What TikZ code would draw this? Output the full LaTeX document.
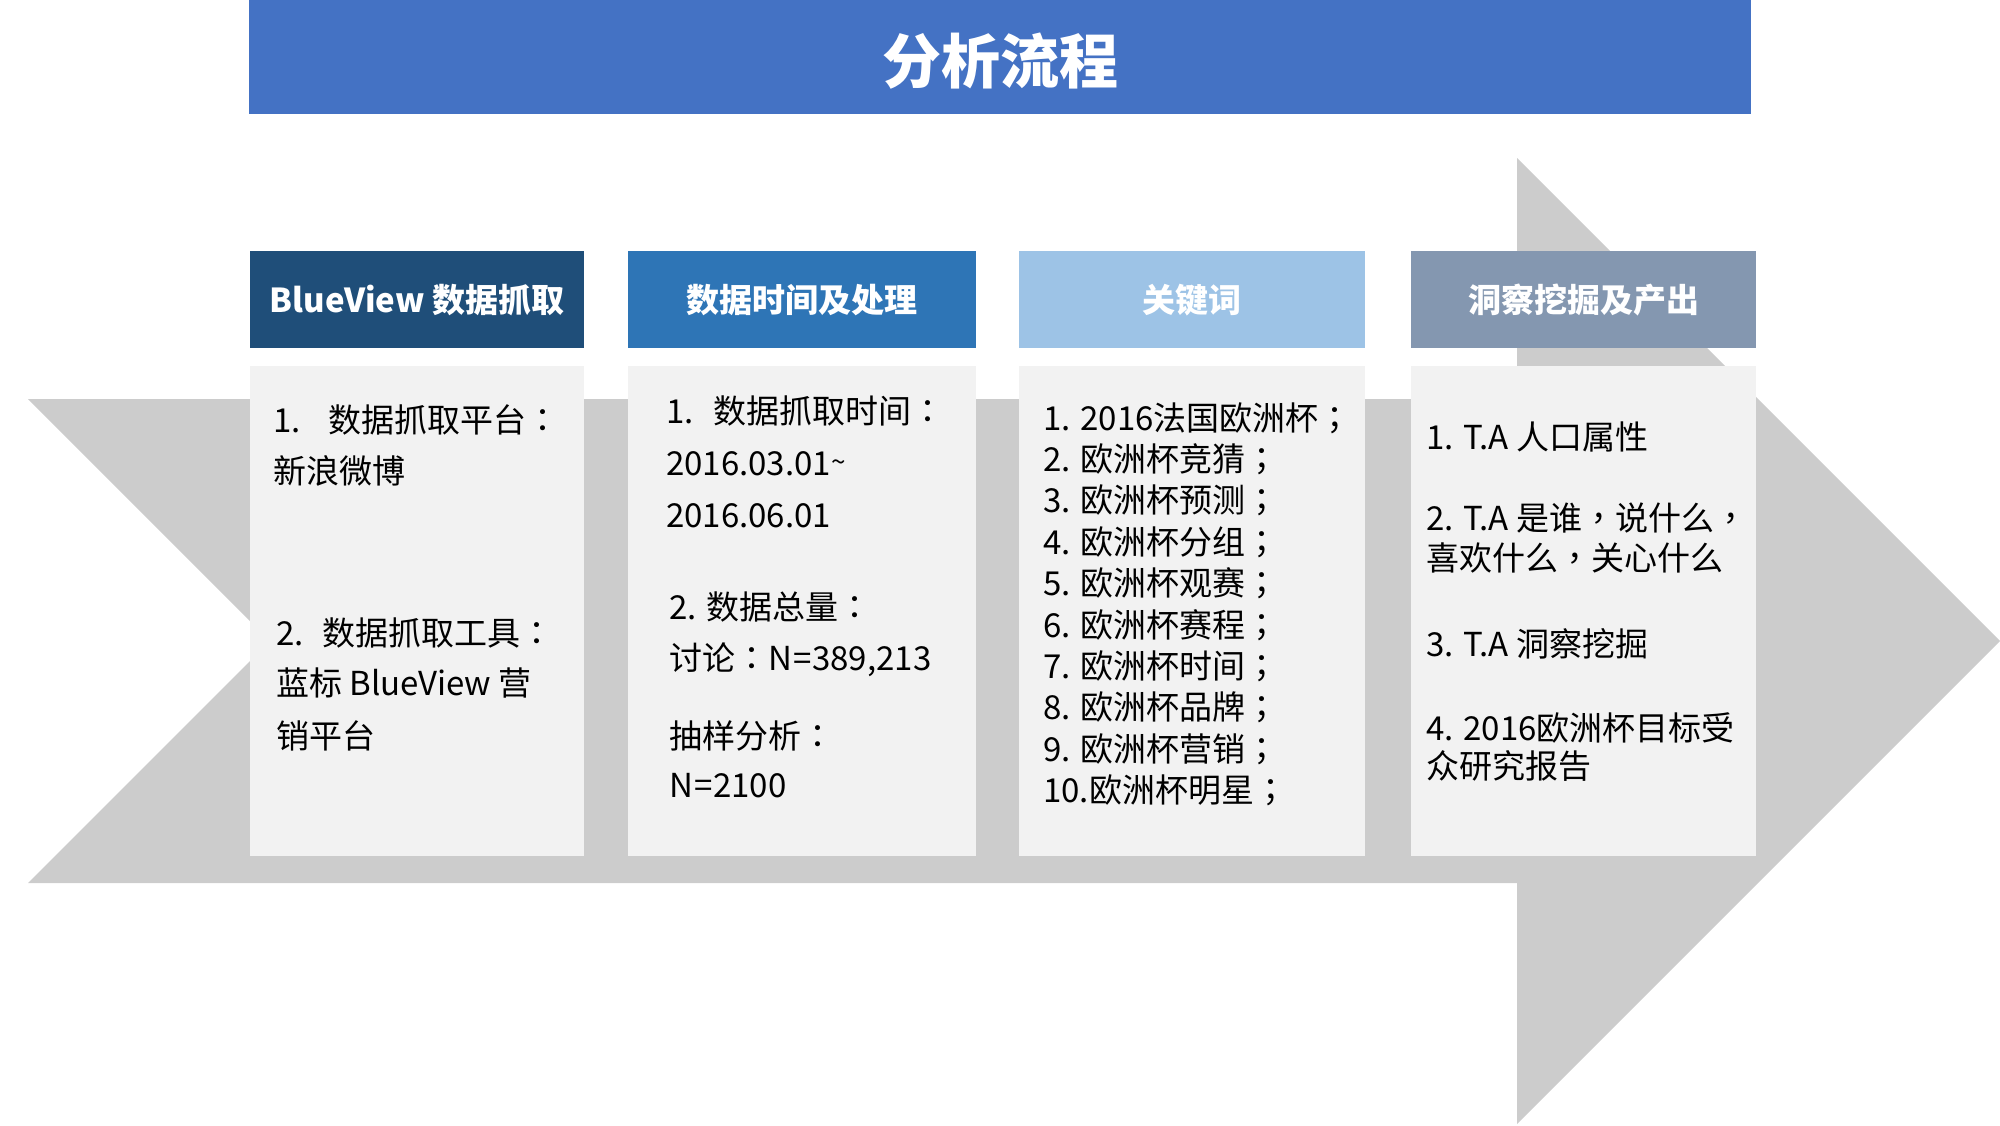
\documentclass[tikz,border=0pt]{standalone}
\usepackage{fontspec}
\setmainfont{Noto Sans CJK SC}
\newfontfamily\tcpunct{Noto Sans CJK TC}
\newcommand\pcolon{{\tcpunct ：}}
\newcommand\psemi{{\tcpunct ；}}
\newcommand\pcomma{{\tcpunct ，}}
\definecolor{titlebg}{HTML}{4472C4}
\definecolor{hdrA}{HTML}{1F4E79}
\definecolor{hdrB}{HTML}{2E75B6}
\definecolor{hdrC}{HTML}{9DC3E6}
\definecolor{hdrD}{HTML}{8497B0}
\definecolor{bodybg}{HTML}{F2F2F2}
\definecolor{arrowgray}{HTML}{CCCCCC}
\tikzset{
  panel/.style={anchor=north west, draw=none, inner sep=0pt, minimum height=#1},
  hdrbox/.style={panel=97pt, fill=#1, text=white, font=\fontsize{33}{40}\selectfont\bfseries},
  bodybox/.style={panel=490pt, fill=bodybg},
  txt/.style={anchor=base west, inner sep=0pt, text=black, font=\fontsize{33}{40}\selectfont},
}
\begin{document}
\begin{tikzpicture}[x=1pt,y=-1pt]
\useasboundingbox (0,0) rectangle (2000,1125);
% big arrow
\fill[arrowgray] (28,399) -- (1517,399) -- (1517,158) -- (2000,641) -- (1517,1124)
  -- (1517,883) -- (28,883) -- (270,641) -- cycle;
% title bar
\node[panel=114pt, fill=titlebg, minimum width=1502pt, text=white,
  font=\fontsize{59}{64}\selectfont\bfseries] (title) at (249,0)
  {\raisebox{-26pt}[0pt][0pt]{分析流程}};
% headers
\node[hdrbox=hdrA, minimum width=334pt] (h1) at (250,251) {BlueView 数据抓取};
\node[hdrbox=hdrB, minimum width=348pt] (h2) at (628,251) {数据时间及处理};
\node[hdrbox=hdrC, minimum width=346pt] (h3) at (1019,251) {关键词};
\node[hdrbox=hdrD, minimum width=345pt] (h4) at (1411,251) {洞察挖掘及产出};
% bodies
\node[bodybox, minimum width=334pt] (b1) at (250,366) {};
\node[bodybox, minimum width=348pt] (b2) at (628,366) {};
\node[bodybox, minimum width=346pt] (b3) at (1019,366) {};
\node[bodybox, minimum width=345pt] (b4) at (1411,366) {};
% column 1
\node[txt] (a1) at (273,432) {1.\hspace{28pt}数据抓取平台\pcolon};
\node[txt] (a2) at (273,483) {新浪微博};
\node[txt] (a3) at (276,645) {2.\hspace{19pt}数据抓取工具\pcolon};
\node[txt] (a4) at (276,695) {蓝标 BlueView 营};
\node[txt] (a5) at (276,748) {销平台};
% column 2
\node[txt] (m1) at (666,423) {1.\hspace{20pt}数据抓取时间\pcolon};
\node[txt] (m2) at (666,475) {2016.03.01\raisebox{4pt}{\fontsize{26}{30}\selectfont\char"007E}};
\node[txt] (m3) at (666,527) {2016.06.01};
\node[txt] (m4) at (669,619) {2. 数据总量\pcolon};
\node[txt] (m5) at (669,670) {讨论\pcolon N\hspace{1pt}=\hspace{1pt}389,213};
\node[txt] (m6) at (669,748) {抽样分析\pcolon};
\node[txt] (m7) at (669,797) {N\hspace{1pt}=\hspace{1pt}2100};
% column 3
\node[txt] (k1)  at (1043,430.0) {1. 2016法国欧洲杯\psemi};
\node[txt] (k2)  at (1043,471.4) {2. 欧洲杯竞猜\psemi};
\node[txt] (k3)  at (1043,512.8) {3. 欧洲杯预测\psemi};
\node[txt] (k4)  at (1043,554.2) {4. 欧洲杯分组\psemi};
\node[txt] (k5)  at (1043,595.6) {5. 欧洲杯观赛\psemi};
\node[txt] (k6)  at (1043,637.0) {6. 欧洲杯赛程\psemi};
\node[txt] (k7)  at (1043,678.4) {7. 欧洲杯时间\psemi};
\node[txt] (k8)  at (1043,719.8) {8. 欧洲杯品牌\psemi};
\node[txt] (k9)  at (1043,761.2) {9. 欧洲杯营销\psemi};
\node[txt] (k10) at (1043,802.6) {10.欧洲杯明星\psemi};
% column 4
\node[txt] (d1) at (1426,449) {1. T.A 人口属性};
\node[txt] (d2) at (1426,530) {2. T.A 是谁\pcomma 说什么\pcomma};
\node[txt] (d3) at (1426,570) {喜欢什么\pcomma 关心什么};
\node[txt] (d4) at (1426,656) {3. T.A 洞察挖掘};
\node[txt] (d5) at (1426,740) {4. 2016欧洲杯目标受};
\node[txt] (d6) at (1426,778) {众研究报告};
\end{tikzpicture}
\end{document}
